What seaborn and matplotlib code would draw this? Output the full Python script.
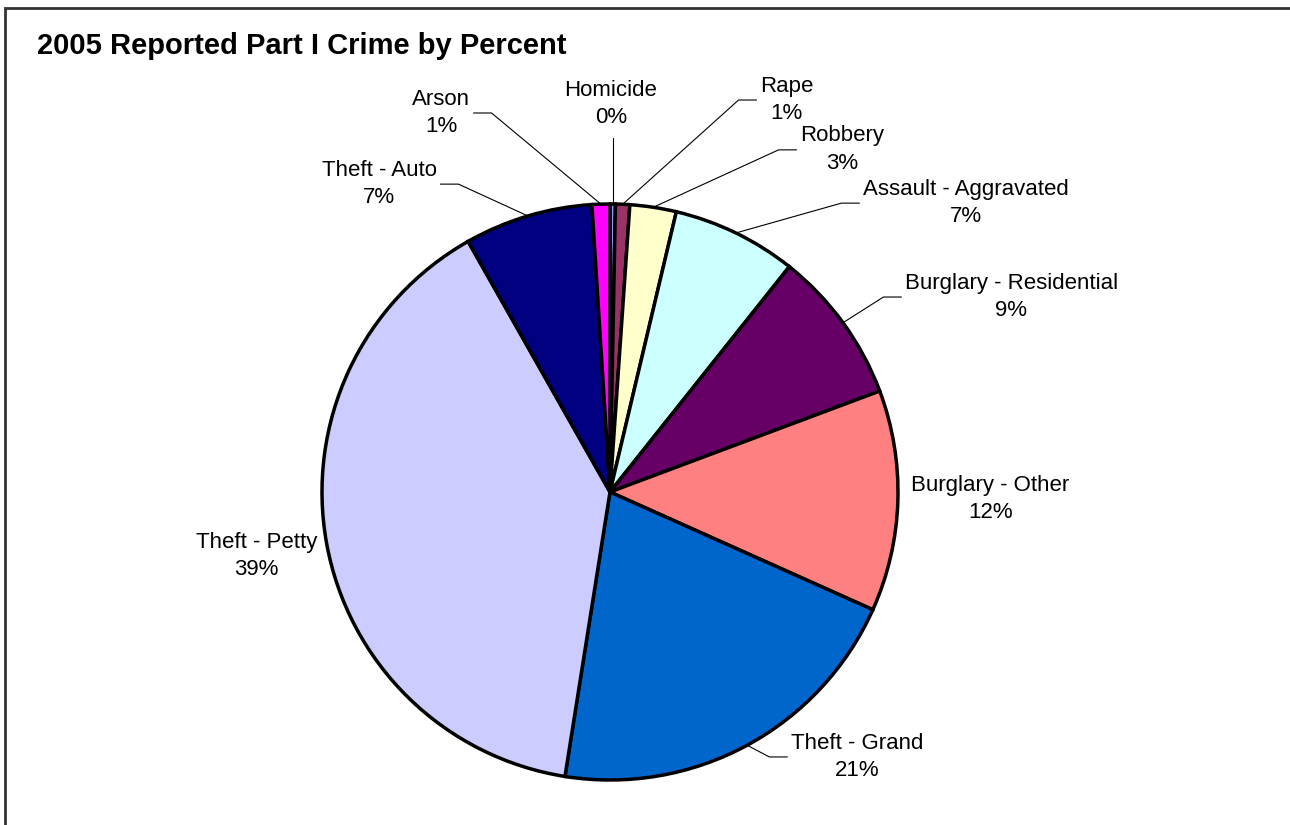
import numpy as np
import seaborn as sns
import matplotlib.pyplot as plt
from matplotlib.patches import Rectangle

# crime categories and share of reported Part I crime (percent)
crimes = ['Homicide', 'Rape', 'Robbery', 'Assault - Aggravated', 'Burglary - Residential',
          'Burglary - Other', 'Theft - Grand', 'Theft - Petty', 'Theft - Auto', 'Arson']
shares = [0.3, 0.8, 2.6, 7.0, 8.6, 12.4, 20.8, 39.3, 7.2, 1.0]

colors_list = ['#9999FF', '#993366', '#FFFFCC', '#CCFFFF', '#660066',
               '#FF8080', '#0066CC', '#CCCCFF', '#000080', '#FF00FF']

# label placement (pie units, radius = 1), alignment, leader line on/off
label_pos = [(0.003, 1.347), (0.521, 1.361), (0.660, 1.188), (0.878, 1.003), (1.024, 0.677),
             (1.045, -0.024), (0.628, -0.920), (-1.017, -0.222), (-0.601, 1.069), (-0.486, 1.316)]
label_ha = ['center', 'left', 'left', 'left', 'left', 'left', 'left', 'right', 'right', 'right']
leader = [True, True, True, True, True, False, True, False, True, True]

sns.set_style('white')
plt.rcParams['font.family'] = ['Liberation Sans', 'DejaVu Sans']
plt.rcParams['text.color'] = 'black'

fig = plt.figure(figsize=(12.9, 8.25), dpi=100)
ax = fig.add_axes([0, 0, 1, 1])
palette = sns.color_palette(colors_list)

wedges, _ = ax.pie(shares, colors=palette, startangle=90, counterclock=False,
                   wedgeprops=dict(edgecolor='black', linewidth=2.5))

R = 288.0
ax.set_xlim(-610 / R, 680 / R)
ax.set_ylim(-333 / R, 492 / R)
ax.axis('off')

gap = 3.5 / R
seg = 18 / R
for w, name, val, (lx, ly), ha, lead in zip(wedges, crimes, shares, label_pos, label_ha, leader):
    ax.text(lx, ly, f'{name}\n{round(val)}%', ha=ha, va='center', multialignment='center',
            fontsize=16, linespacing=1.42, color='black')
    if not lead:
        continue
    mid = np.deg2rad((w.theta1 + w.theta2) / 2)
    ex, ey = np.cos(mid), np.sin(mid)
    if ha == 'center':
        xs, ys = [ex, ex], [ey, ly - 34 / R]
    elif ha == 'left':
        xs, ys = [ex, lx - gap - seg, lx - gap], [ey, ly, ly]
    else:
        xs, ys = [ex, lx + gap + seg, lx + gap], [ey, ly, ly]
    ax.plot(xs, ys, color='black', linewidth=0.8, zorder=0)

fig.text(37 / 1290, 1 - 46 / 825, '2005 Reported Part I Crime by Percent',
         fontsize=21, fontweight='bold', ha='left', va='center', color='black')

fig.add_artist(Rectangle((5 / 1290, -0.1), 1.5, 1.1 - 8 / 825, transform=fig.transFigure,
                         fill=False, edgecolor='#333333', linewidth=2))

plt.savefig('out.png', dpi=100)
